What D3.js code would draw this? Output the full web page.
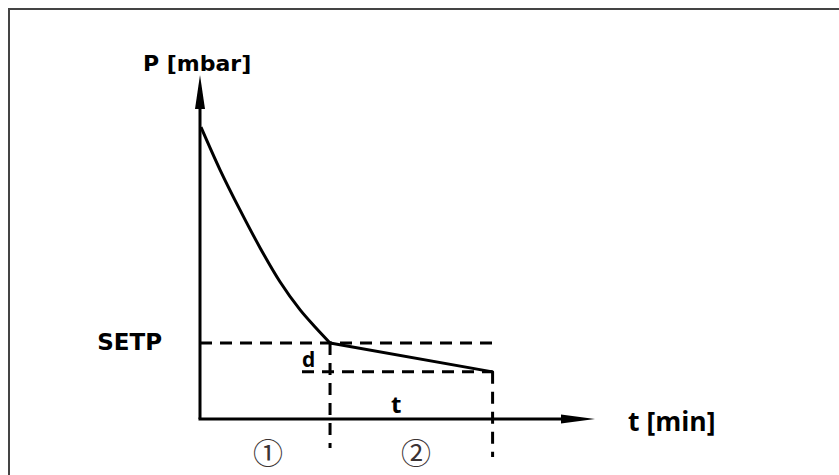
<!DOCTYPE html>
<html>
<head>
<meta charset="utf-8">
<script src="https://cdn.jsdelivr.net/npm/d3@7"></script>
<style>
html,body{margin:0;padding:0;background:#fff;}
svg{display:block;}
</style>
</head>
<body>
<svg id="chart" width="839" height="475"></svg>
<script>
// ---- data (time units, pressure units) ----
const decayTime     = [0.03, 0.62, 1.23, 1.85, 2.46, 3.08, 3.54, 4.0];
const decayPressure = [7.68, 6.55, 5.50, 4.50, 3.61, 2.87, 2.42, 2.0];
const holdTime      = [4.0, 9.0];
const holdPressure  = [2.0, 1.24];
const setpValue = 2.0;
const axisMaxTime = 12.15;
const axisMaxPressure = 9.05;
const labels = { yAxis: "P [mbar]", xAxis: "t [min]", setp: "SETP", d: "d", t: "t", phase1: "①", phase2: "②" };

const svg = d3.select("#chart");
const x = d3.scaleLinear().domain([0, axisMaxTime]).range([200, 595]);
const y = d3.scaleLinear().domain([0, axisMaxPressure]).range([419, 75]);

// frame
svg.append("path")
  .attr("d", "M9,480 L9,9 L845,9")
  .attr("fill", "none").attr("stroke", "#444").attr("stroke-width", 2);

const ink = "#000";
const dash = "12,8";

// dashed helper lines
const tKnee = holdTime[0], tEnd = holdTime[1], pEnd = holdPressure[1];
const dashed = [
  [[x(0), y(setpValue)], [x(tEnd), y(setpValue)]],
  [[x(0) + 102, y(pEnd)], [x(tEnd), y(pEnd)]],
  [[x(tKnee), y(setpValue)], [x(tKnee), y(0) + 29]],
  [[x(tEnd), y(pEnd)], [x(tEnd), y(0) + 38]]
];
svg.selectAll(".dash").data(dashed).enter().append("line")
  .attr("x1", d => d[0][0]).attr("y1", d => d[0][1])
  .attr("x2", d => d[1][0]).attr("y2", d => d[1][1])
  .attr("stroke", ink).attr("stroke-width", 3).attr("stroke-dasharray", dash);

// axes
svg.append("line").attr("x1", x(0)).attr("y1", y(0)).attr("x2", x(0)).attr("y2", y(axisMaxPressure) + 20)
  .attr("stroke", ink).attr("stroke-width", 3);
svg.append("line").attr("x1", x(0) - 1.5).attr("y1", y(0)).attr("x2", x(axisMaxTime) - 20).attr("y2", y(0))
  .attr("stroke", ink).attr("stroke-width", 3);
// arrowheads
svg.append("path")
  .attr("d", `M${x(0)},${y(axisMaxPressure)} L${x(0) + 5},${y(axisMaxPressure) + 34} L${x(0) - 5},${y(axisMaxPressure) + 34} Z`)
  .attr("fill", ink);
svg.append("path")
  .attr("d", `M${x(axisMaxTime)},${y(0)} L${x(axisMaxTime) - 34},${y(0) - 4.5} L${x(axisMaxTime) - 34},${y(0) + 4.5} Z`)
  .attr("fill", ink);

// curve
const decay = decayTime.map((t, i) => [t, decayPressure[i]]);
const hold = holdTime.map((t, i) => [t, holdPressure[i]]);
svg.append("path").datum(decay)
  .attr("d", d3.line().x(d => x(d[0])).y(d => y(d[1])).curve(d3.curveMonotoneX))
  .attr("fill", "none").attr("stroke", ink).attr("stroke-width", 3).attr("stroke-linejoin", "round");
svg.append("path").datum(hold)
  .attr("d", d3.line().x(d => x(d[0])).y(d => y(d[1])))
  .attr("fill", "none").attr("stroke", ink).attr("stroke-width", 3).attr("stroke-linecap", "round");

// texts
const bold = "'DejaVu Sans', sans-serif";
const open = "'Open Sans', sans-serif";
svg.append("text").attr("x", 143).attr("y", 71).text(labels.yAxis)
  .attr("font-family", bold).attr("font-weight", "bold").attr("font-size", 22);
svg.append("text").attr("x", 162).attr("y", 350).attr("text-anchor", "end").text(labels.setp)
  .attr("font-family", bold).attr("font-weight", "bold").attr("font-size", 23);
svg.append("text").attr("x", 628).attr("y", 431).text(labels.xAxis)
  .attr("font-family", open).attr("font-weight", "bold").attr("font-size", 26.5);
svg.append("text").attr("x", 302).attr("y", 367).text(labels.d)
  .attr("font-family", open).attr("font-weight", "bold").attr("font-size", 21);
svg.append("text").attr("x", 391).attr("y", 413).text(labels.t)
  .attr("font-family", open).attr("font-weight", "bold").attr("font-size", 24);
svg.append("text").attr("x", 268).attr("y", 451).attr("text-anchor", "middle").attr("dominant-baseline", "central").text(labels.phase1)
  .attr("font-family", "'Noto Sans CJK JP', sans-serif").attr("font-size", 30).attr("fill", "#3b3333");
svg.append("text").attr("x", 416).attr("y", 451).attr("text-anchor", "middle").attr("dominant-baseline", "central").text(labels.phase2)
  .attr("font-family", "'Noto Sans CJK JP', sans-serif").attr("font-size", 30).attr("fill", "#3b3333");
</script>
</body>
</html>
